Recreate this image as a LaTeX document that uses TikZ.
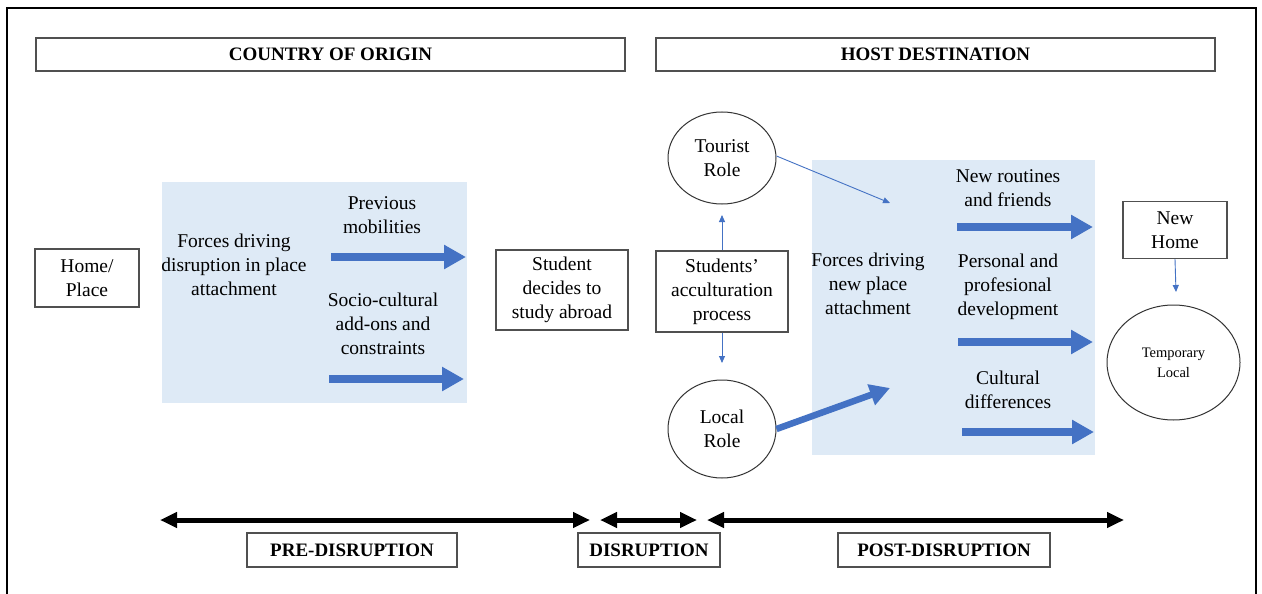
\documentclass[tikz,border=0pt]{standalone}
\usepackage{fontspec}
\setmainfont{Liberation Serif}
\usetikzlibrary{arrows.meta,shapes.geometric}
\definecolor{panelblue}{HTML}{DEEAF6}
\definecolor{flowblue}{HTML}{4472C4}
\definecolor{edgegray}{HTML}{505050}
\begin{document}
\begin{tikzpicture}[x=1pt,y=-1pt,
  txt/.style={align=center,inner sep=0pt,font=\fontsize{19.5}{24}\selectfont},
  smalltxt/.style={align=center,inner sep=0pt,font=\fontsize{14.5}{20}\selectfont},
  headtxt/.style={font=\bfseries\fontsize{19}{22}\selectfont},
  framebox/.style={draw=edgegray,line width=1.1pt,fill=white,inner sep=0pt,align=center},
  rolecircle/.style={ellipse,draw=black!80,line width=1pt,fill=white,inner sep=0pt,align=center},
  panel/.style={fill=panelblue,draw=none},
  bigarrow/.style={draw=flowblue,line width=7.5pt,-{Triangle[length=22pt,width=23pt]}},
  thinarrow/.style={draw=flowblue,line width=0.9pt,-{Triangle[length=7pt,width=6pt]}},
  phasearrow/.style={draw=black,line width=5pt,{Triangle[length=17pt,width=15pt]}-{Triangle[length=17pt,width=15pt]}}
]
\useasboundingbox (0,0) rectangle (1262,594);
\fill[white] (0,0) rectangle (1262,594);
% outer frame, open at the bottom
\draw[line width=2.5pt] (7,600) -- (7,8) -- (1256,8) -- (1256,600);

% headers
\node[framebox,headtxt,minimum width=589pt,minimum height=33pt] (origin) at (330.5,54.5) {COUNTRY OF ORIGIN};
\node[framebox,headtxt,minimum width=559pt,minimum height=33pt] (host) at (935.5,54.5) {HOST DESTINATION};

% shaded panels
\fill[panel] (162,182) rectangle (467,403);
\fill[panel] (812,160) rectangle (1095,455);

% country of origin side
\node[framebox,txt,minimum width=104pt,minimum height=58pt] (home) at (87,278) {Home/\\Place};
\node[txt] (forcesA) at (234,265) {Forces driving\\disruption in place\\attachment};
\node[txt] (prevmob) at (382,215) {Previous\\mobilities};
\node[txt] (socio) at (383,324) {Socio-cultural\\add-ons and\\constraints};
\coordinate (pmA) at (331,257);
\coordinate (pmB) at (466,257);
\coordinate (scA) at (329,379);
\coordinate (scB) at (464,379);
\draw[bigarrow] (pmA) -- (pmB);
\draw[bigarrow] (scA) -- (scB);

\node[framebox,txt,minimum width=132pt,minimum height=80pt] (decide) at (562,290) {Student\\decides to\\study abroad};

% host destination side
\node[framebox,txt,minimum width=132pt,minimum height=81pt] (accult) at (722,291.5) {Students'\\acculturation\\process};
\node[rolecircle,txt,minimum width=108pt,minimum height=92pt] (tourist) at (722,158) {Tourist\\Role};
\node[rolecircle,txt,minimum width=108pt,minimum height=98pt] (local) at (722,429) {Local\\Role};
\coordinate (upEnd) at (722,215);
\coordinate (downEnd) at (722,363);
\draw[thinarrow] (accult.north) -- (upEnd);
\draw[thinarrow] (accult.south) -- (downEnd);

\node[txt] (forcesB) at (868,284) {Forces driving\\new place\\attachment};
\coordinate (touristEnd) at (890,203);
\coordinate (localEnd) at (890,388);
\draw[thinarrow] (tourist.east) ++(0,-2) -- (touristEnd);
\draw[draw=flowblue,line width=6.5pt,-{Triangle[length=20pt,width=21pt]}] (local.east) -- (localEnd);

\node[txt] (routines) at (1008,188) {New routines\\and friends};
\node[txt] (personal) at (1008,287) {Personal and\\profesional\\development};
\node[txt] (cultural) at (1008,390) {Cultural\\differences};
\coordinate (rtA) at (957,227);
\coordinate (rtB) at (1093,227);
\coordinate (pdA) at (958,342);
\coordinate (pdB) at (1093,342);
\coordinate (cdA) at (962,432);
\coordinate (cdB) at (1094,432);
\draw[bigarrow] (rtA) -- (rtB);
\draw[bigarrow] (pdA) -- (pdB);
\draw[bigarrow] (cdA) -- (cdB);

\node[framebox,txt,minimum width=104pt,minimum height=57pt] (newhome) at (1175,230) {New\\Home};
\node[rolecircle,smalltxt,minimum width=133pt,minimum height=115pt] (temporary) at (1173.5,362.5) {Temporary\\Local};
\coordinate (nhEnd) at (1176,292);
\draw[thinarrow] (newhome.south) -- (nhEnd);

% phase timeline
\coordinate (preA) at (160,520);
\coordinate (preB) at (590,520);
\coordinate (disA) at (600,520);
\coordinate (disB) at (697,520);
\coordinate (postA) at (707,520);
\coordinate (postB) at (1124,520);
\draw[phasearrow] (preA) -- (preB);
\draw[phasearrow] (disA) -- (disB);
\draw[phasearrow] (postA) -- (postB);
\node[framebox,headtxt,minimum width=210pt,minimum height=34pt] (pre) at (352,550) {PRE-DISRUPTION};
\node[framebox,headtxt,minimum width=142pt,minimum height=34pt] (dis) at (649,550) {DISRUPTION};
\node[framebox,headtxt,minimum width=212pt,minimum height=34pt] (post) at (944,550) {POST-DISRUPTION};
\end{tikzpicture}
\end{document}
